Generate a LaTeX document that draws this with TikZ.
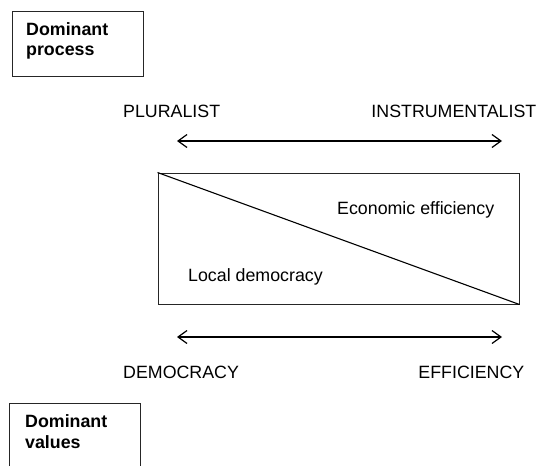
\documentclass[tikz,border=0pt]{standalone}
\usepackage{fontspec}
\setmainfont{Liberation Sans}
\usetikzlibrary{arrows.meta}
\begin{document}
\begin{tikzpicture}[x=1pt,y=-1pt,
  txt/.style={inner sep=0pt,font=\fontsize{17.8}{20}\selectfont},
  btxt/.style={inner sep=0pt,align=left,font=\fontsize{17.8}{20.5}\selectfont\bfseries},
  frame/.style={draw=black!85,line width=1pt},
  dbl/.style={line width=1.2pt,{Straight Barb[length=9pt,width=13pt,line width=1.2pt]}-{Straight Barb[length=9pt,width=13pt,line width=1.2pt]}}]
\useasboundingbox (0,0) rectangle (538,466);
% top-left box
\node[frame,minimum width=131pt,minimum height=65pt,inner sep=0pt] (pbox) at (77.5,44) {};
\node[btxt,anchor=base west] (ptext) at (26,55.5) {Dominant\\process};
% bottom-left open box
\coordinate (vb1) at (9.5,466);
\coordinate (vb2) at (9.5,403);
\coordinate (vb3) at (140,403);
\coordinate (vb4) at (140,466);
\draw[frame] (vb1) -- (vb2) -- (vb3) -- (vb4);
\node[btxt,anchor=base west] (vtext) at (25,448) {Dominant\\values};
% labels
\node[txt,anchor=base west] (plur) at (123,117) {PLURALIST};
\node[txt,anchor=base east] (instr) at (536.5,117) {INSTRUMENTALIST};
\node[txt,anchor=base west] (demo) at (123,378) {DEMOCRACY};
\node[txt,anchor=base east] (effi) at (524.5,378) {EFFICIENCY};
% arrows
\coordinate (ta) at (177,141);
\coordinate (tb) at (502,141);
\coordinate (ba) at (177,337);
\coordinate (bb) at (502,337);
\draw[dbl] (ta) -- (tb);
\draw[dbl] (ba) -- (bb);
% central rectangle
\node[frame,minimum width=361pt,minimum height=131pt,inner sep=0pt] (rect) at (338.5,238.5) {};
\draw[line width=1.1pt] (rect.north west) -- (rect.south east);
\node[txt,anchor=base west] (econ) at (337,214.5) {Economic efficiency};
\node[txt,anchor=base west] (local) at (188,281.5) {Local democracy};
\end{tikzpicture}
\end{document}
